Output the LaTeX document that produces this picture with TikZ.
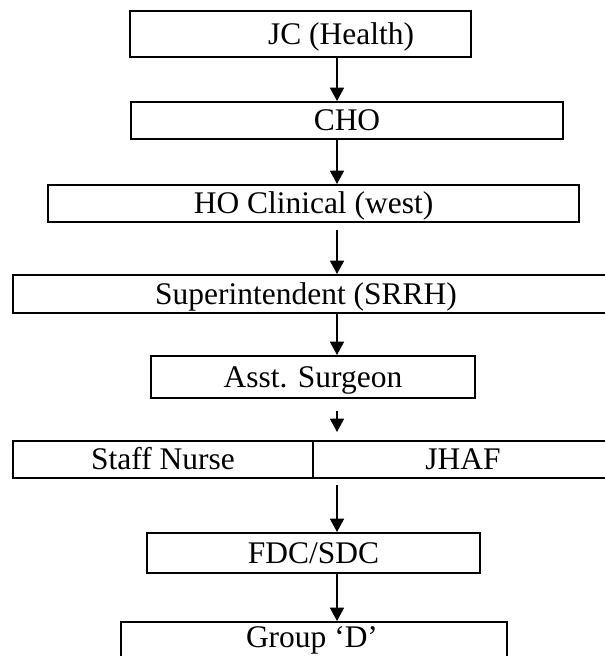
\documentclass[tikz,border=0pt]{standalone}
\usepackage{fontspec}
\setmainfont{Liberation Serif}
\usetikzlibrary{arrows.meta}
\newcommand{\px}{0.75pt}
\tikzset{
  txt/.style={inner sep=0pt, text height=15.6pt, text depth=0pt,
    font=\fontsize{23.6}{28}\selectfont},
  box/.style={txt, draw, line width=1.5pt},
  link/.style={-{Triangle[length=10pt,width=10.5pt]}, line width=1.2pt},
}
\begin{document}
\begin{tikzpicture}[x=0.75pt,y=-0.75pt]
  \useasboundingbox (0,0) rectangle (605,656);
  % boxes, sizes in px
  \node[box, minimum width=341*\px, minimum height=46*\px] (jc) at (300.5,34) {};
  \node[txt] (jc-t) at (341,34) {JC (Health)};
  \node[box, minimum width=432*\px, minimum height=37*\px] (cho) at (347,120.5) {CHO};
  \node[box, minimum width=531*\px, minimum height=37*\px] (ho) at (313.5,203.5) {HO Clinical (west)};
  \node[box, minimum width=610*\px, minimum height=38*\px] (sup) at (318,294) {};
  \node[txt] (sup-t) at (306,294) {Superintendent (SRRH)};
  \node[box, minimum width=324*\px, minimum height=42*\px] (asst) at (313,377) {Asst. Surgeon};
  \node[box, minimum width=300*\px, minimum height=37*\px] (staff) at (163,459.5) {Staff Nurse};
  \node[box, minimum width=300*\px, minimum height=37*\px] (jhaf) at (463,459.5) {JHAF};
  \node[box, minimum width=333*\px, minimum height=40*\px] (fdc) at (313.5,553) {FDC/SDC};
  \node[box, minimum width=386*\px, minimum height=50*\px] (grp) at (314,647) {};
  \node[txt, anchor=base] (grp-t) at (312,647) {Group ‘D’};
  % arrows, all on one column
  \coordinate (col) at (337,0);
  \draw[link] (jc.south -| col) -- (cho.north -| col);
  \draw[link] (cho.south -| col) -- (ho.north -| col);
  \draw[link, shorten <=5.25pt] (ho.south -| col) -- (sup.north -| col);
  \draw[link] (sup.south -| col) -- (asst.north -| col);
  \draw[link, shorten <=9pt, shorten >=6pt] (asst.south -| col) -- (staff.north -| col);
  \draw[link, shorten <=4.5pt] (staff.south -| col) -- (fdc.north -| col);
  \draw[link] (fdc.south -| col) -- (grp.north -| col);
\end{tikzpicture}
\end{document}
